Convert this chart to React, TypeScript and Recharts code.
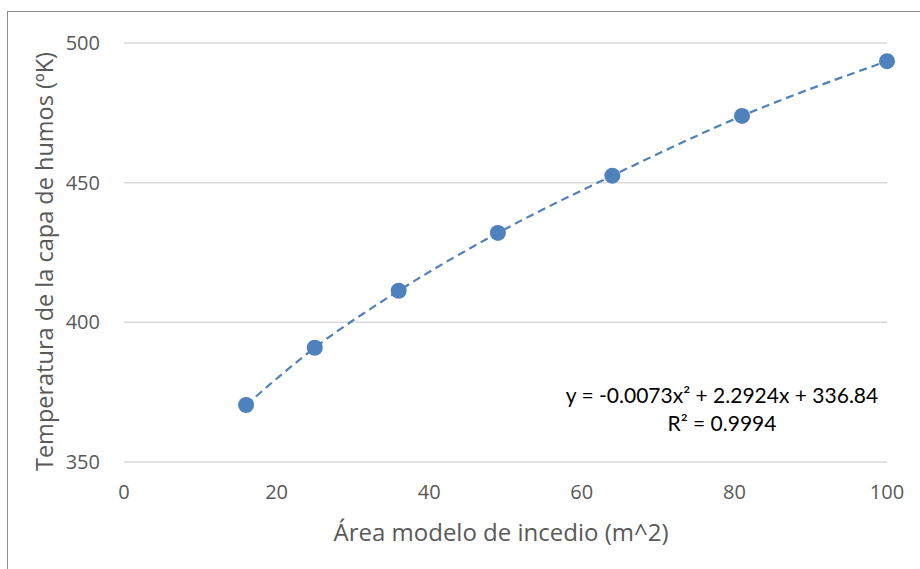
import React from "react";
import {
  ComposedChart,
  Line,
  Scatter,
  XAxis,
  YAxis,
  CartesianGrid,
  Label,
} from "recharts";

// área del modelo (m^2) y temperatura medida de la capa de humos
const areas = [16, 25, 36, 49, 64, 81, 100];
const temps = [370.4, 390.9, 411.3, 432.0, 452.5, 473.9, 493.5];
const xTicks = [0, 20, 40, 60, 80, 100];
const yTicks = [350, 400, 450, 500];

const data = areas.map((x, i) => ({ x, y: temps[i] }));

const BLUE = "#4f81bd";
const GREY = "#595959";
const FONT = "'Open Sans', sans-serif";

export default function App() {
  return (
    <div style={{ position: "relative", width: 920, height: 569, overflow: "hidden", background: "#fff" }}>
      <style>{`body{margin:0;overflow:hidden}`}</style>
      <div
        style={{
          position: "absolute",
          left: 7,
          top: 11,
          width: 960,
          height: 600,
          border: "1px solid #8c8c8c",
        }}
      />
      <div style={{ position: "absolute", left: 0, top: 0 }}>
        <ComposedChart
          width={920}
          height={569}
          data={data}
          margin={{ top: 43, right: 33, bottom: 0, left: 0 }}
          style={{ fontFamily: FONT }}
        >
          <CartesianGrid vertical={false} stroke="#d9d9d9" strokeWidth={1.5} />
          <XAxis
            type="number"
            dataKey="x"
            domain={[0, 100]}
            ticks={xTicks}
            axisLine={false}
            tickLine={false}
            tickSize={0}
            tickMargin={23}
            height={107}
            tick={{ fill: GREY, fontSize: 20 }}
          >
            <Label
              content={() => (
                <text x={501} y={541} textAnchor="middle" fill={GREY} fontSize={24} fontFamily={FONT}>
                  Área modelo de incedio (m^2)
                </text>
              )}
            />
          </XAxis>
          <YAxis
            type="number"
            domain={[350, 500]}
            ticks={yTicks}
            axisLine={false}
            tickLine={false}
            tickSize={0}
            tickMargin={24}
            width={124}
            tick={{ fill: GREY, fontSize: 20 }}
          >
            <Label
              content={() => (
                <text
                  x={53}
                  y={261.5}
                  transform="rotate(-90 53 261.5)"
                  textAnchor="middle"
                  fill={GREY}
                  fontSize={23.5}
                  fontFamily={FONT}
                >
                  Temperatura de la capa de humos (ºK)
                </text>
              )}
            />
          </YAxis>
          <Line
            dataKey="y"
            type="monotone"
            stroke={BLUE}
            strokeWidth={2.2}
            strokeDasharray="8 5"
            dot={false}
            activeDot={false}
            isAnimationActive={false}
          />
          <Scatter dataKey="y" fill={BLUE} isAnimationActive={false} shape={(p: any) => (
            <circle cx={p.cx} cy={p.cy} r={8} fill={BLUE} />
          )} />
        </ComposedChart>
      </div>
      <div
        style={{
          position: "absolute",
          left: 542,
          top: 381,
          width: 360,
          textAlign: "center",
          fontFamily: "Lato, sans-serif",
          fontSize: 21,
          lineHeight: "28px",
          color: "#000",
        }}
      >
        <div>y = -0.0073x² + 2.2924x + 336.84</div>
        <div>R² = 0.9994</div>
      </div>
    </div>
  );
}
